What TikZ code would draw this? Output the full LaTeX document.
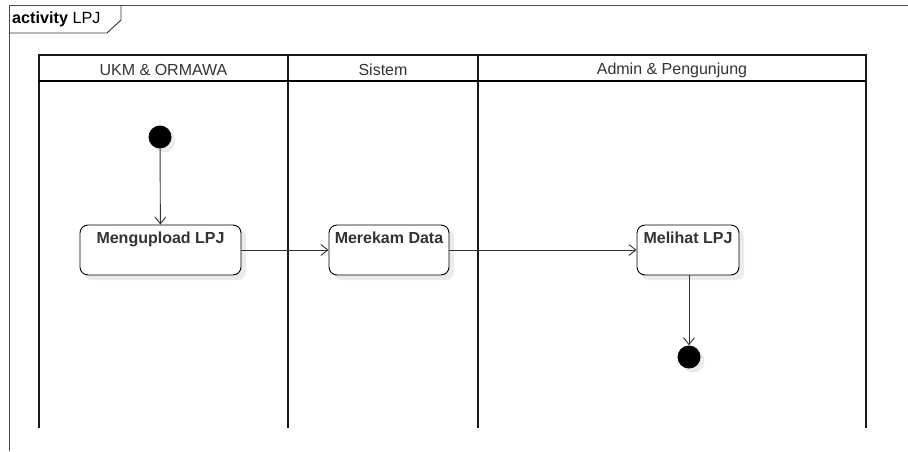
\documentclass[tikz,border=0pt]{standalone}
\usepackage{fontspec}
\setmainfont{Liberation Sans}
\usetikzlibrary{arrows.meta,positioning}
\definecolor{txt}{HTML}{333333}
\definecolor{shd}{HTML}{EBEBEB}
\tikzset{
  lane/.style={line width=2.4pt,draw=black!90},
  actbox/.style={draw=black,line width=0.9pt,rounded corners=8pt,fill=white,inner sep=0pt},
  acttext/.style={font=\bfseries\fontsize{16}{18}\selectfont,text=txt,anchor=north,inner sep=0pt},
  flow/.style={draw=black!80,line width=0.9pt,-{Straight Barb[length=7pt,width=11pt,line width=0.9pt]}},
  dot/.style={circle,fill=black,minimum size=23pt,inner sep=0pt},
  dotshadow/.style={circle,fill=shd,minimum size=23pt,inner sep=0pt},
  hdr/.style={font=\fontsize{16}{18}\selectfont,text=txt}
}
\begin{document}
\begin{tikzpicture}[x=1pt,y=-1pt]
\useasboundingbox (0,0) rectangle (908,451);
% frame
\draw[black!70,line width=0.9pt] (9,451) -- (9,5) -- (908,5);
\draw[black!80,line width=0.9pt] (9,33) -- (107,33) -- (121,20) -- (121,5);
\node[anchor=west,inner sep=0pt,font=\fontsize{16.2}{18}\selectfont] (frm) at (12,19) {\textbf{activity} LPJ};
% lanes
\draw[lane] (39,428) -- (39,55) -- (866,55) -- (866,428);
\draw[lane] (288,55) -- (288,428);
\draw[lane] (478,55) -- (478,428);
\draw[line width=1.6pt] (39,81) -- (866,81);
\node[hdr] (h1) at (163.5,70) {UKM \& ORMAWA};
\node[hdr] (h2) at (383,70) {Sistem};
\node[hdr] (h3) at (672,70) {Admin \& Pengunjung};
% shadows
\fill[shd,rounded corners=8pt] (84,229) rectangle (246,280);
\fill[shd,rounded corners=8pt] (333,229) rectangle (454,280);
\fill[shd,rounded corners=8pt] (641,229) rectangle (744,280);
\node[dotshadow] at (164,141) {};
\node[dotshadow] at (693,361) {};
% nodes
\node[dot] (start) at (160,137) {};
\node[actbox,minimum width=161pt,minimum height=50pt] (a1) at (160.5,250) {};
\node[acttext] (t1) at ([yshift=-7pt]a1.north) {Mengupload LPJ};
\node[actbox,minimum width=120pt,minimum height=50pt] (a2) at (389,250) {};
\node[acttext] (t2) at ([yshift=-7pt]a2.north) {Merekam Data};
\node[actbox,minimum width=102pt,minimum height=50pt] (a3) at (688,250) {};
\node[acttext] (t3) at ([yshift=-7pt]a3.north) {Melihat LPJ};
\node[dot] (end) at (689,357) {};
% flows
\draw[flow] (start) -- (a1);
\draw[flow] (a1) -- (a2);
\draw[flow] (a2) -- (a3);
\draw[flow] (a3.south -| end) -- (end);
\end{tikzpicture}
\end{document}
